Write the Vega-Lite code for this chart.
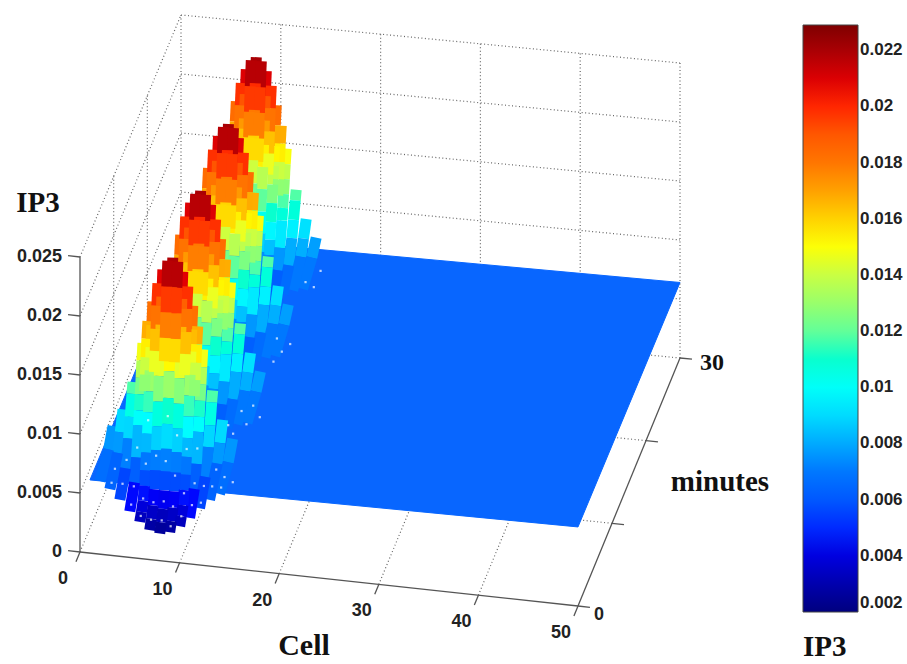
{"$schema":"https://vega.github.io/schema/vega-lite/v6.json","width":907,"height":664,"padding":0,"autosize":{"type":"none"},"background":"white","view":{"stroke":null},
"datasets":{"frame":[
{"series":"grid","cell":0,"minutes":30,"ip3":0,"end_cell":0,"end_minutes":30,"end_ip3":0.025},{"series":"grid","cell":10,"minutes":30,"ip3":0,"end_cell":10,"end_minutes":30,"end_ip3":0.025},{"series":"grid","cell":20,"minutes":30,"ip3":0,"end_cell":20,"end_minutes":30,"end_ip3":0.025},{"series":"grid","cell":30,"minutes":30,"ip3":0,"end_cell":30,"end_minutes":30,"end_ip3":0.025},{"series":"grid","cell":40,"minutes":30,"ip3":0,"end_cell":40,"end_minutes":30,"end_ip3":0.025},{"series":"grid","cell":50,"minutes":30,"ip3":0,"end_cell":50,"end_minutes":30,"end_ip3":0.025},
{"series":"grid","cell":0,"minutes":10,"ip3":0,"end_cell":0,"end_minutes":10,"end_ip3":0.025},{"series":"grid","cell":0,"minutes":20,"ip3":0,"end_cell":0,"end_minutes":20,"end_ip3":0.025},
{"series":"grid","cell":0,"minutes":30,"ip3":0.005,"end_cell":50,"end_minutes":30,"end_ip3":0.005},{"series":"grid","cell":0,"minutes":30,"ip3":0.01,"end_cell":50,"end_minutes":30,"end_ip3":0.01},{"series":"grid","cell":0,"minutes":30,"ip3":0.015,"end_cell":50,"end_minutes":30,"end_ip3":0.015},{"series":"grid","cell":0,"minutes":30,"ip3":0.02,"end_cell":50,"end_minutes":30,"end_ip3":0.02},{"series":"grid","cell":0,"minutes":30,"ip3":0.025,"end_cell":50,"end_minutes":30,"end_ip3":0.025},
{"series":"grid","cell":0,"minutes":0,"ip3":0.005,"end_cell":0,"end_minutes":30,"end_ip3":0.005},{"series":"grid","cell":0,"minutes":0,"ip3":0.01,"end_cell":0,"end_minutes":30,"end_ip3":0.01},{"series":"grid","cell":0,"minutes":0,"ip3":0.015,"end_cell":0,"end_minutes":30,"end_ip3":0.015},{"series":"grid","cell":0,"minutes":0,"ip3":0.02,"end_cell":0,"end_minutes":30,"end_ip3":0.02},{"series":"grid","cell":0,"minutes":0,"ip3":0.025,"end_cell":0,"end_minutes":30,"end_ip3":0.025},
{"series":"grid","cell":0,"minutes":0,"ip3":0,"end_cell":0,"end_minutes":30,"end_ip3":0},{"series":"grid","cell":10,"minutes":0,"ip3":0,"end_cell":10,"end_minutes":30,"end_ip3":0},{"series":"grid","cell":20,"minutes":0,"ip3":0,"end_cell":20,"end_minutes":30,"end_ip3":0},{"series":"grid","cell":30,"minutes":0,"ip3":0,"end_cell":30,"end_minutes":30,"end_ip3":0},{"series":"grid","cell":40,"minutes":0,"ip3":0,"end_cell":40,"end_minutes":30,"end_ip3":0},{"series":"grid","cell":50,"minutes":10,"ip3":0,"end_cell":0,"end_minutes":10,"end_ip3":0},{"series":"grid","cell":50,"minutes":20,"ip3":0,"end_cell":0,"end_minutes":20,"end_ip3":0},{"series":"grid","cell":50,"minutes":30,"ip3":0,"end_cell":0,"end_minutes":30,"end_ip3":0},
{"series":"axis","cell":0,"minutes":0,"ip3":0,"end_cell":0,"end_minutes":0,"end_ip3":0.025},{"series":"axis","cell":0,"minutes":0,"ip3":0,"end_cell":50,"end_minutes":0,"end_ip3":0},{"series":"axis","cell":50,"minutes":0,"ip3":0,"end_cell":50,"end_minutes":30,"end_ip3":0},
{"series":"axis","cell":0,"minutes":0,"ip3":0,"end_cell":-1.2,"end_minutes":0,"end_ip3":0},{"series":"axis","cell":0,"minutes":0,"ip3":0.005,"end_cell":-1.2,"end_minutes":0,"end_ip3":0.005},{"series":"axis","cell":0,"minutes":0,"ip3":0.01,"end_cell":-1.2,"end_minutes":0,"end_ip3":0.01},{"series":"axis","cell":0,"minutes":0,"ip3":0.015,"end_cell":-1.2,"end_minutes":0,"end_ip3":0.015},{"series":"axis","cell":0,"minutes":0,"ip3":0.02,"end_cell":-1.2,"end_minutes":0,"end_ip3":0.02},{"series":"axis","cell":0,"minutes":0,"ip3":0.025,"end_cell":-1.2,"end_minutes":0,"end_ip3":0.025},
{"series":"axis","cell":0,"minutes":0,"ip3":0,"end_cell":0,"end_minutes":-1.2,"end_ip3":0},{"series":"axis","cell":10,"minutes":0,"ip3":0,"end_cell":10,"end_minutes":-1.2,"end_ip3":0},{"series":"axis","cell":20,"minutes":0,"ip3":0,"end_cell":20,"end_minutes":-1.2,"end_ip3":0},{"series":"axis","cell":30,"minutes":0,"ip3":0,"end_cell":30,"end_minutes":-1.2,"end_ip3":0},{"series":"axis","cell":40,"minutes":0,"ip3":0,"end_cell":40,"end_minutes":-1.2,"end_ip3":0},{"series":"axis","cell":50,"minutes":0,"ip3":0,"end_cell":50,"end_minutes":-1.2,"end_ip3":0},
{"series":"axis","cell":50,"minutes":0,"ip3":0,"end_cell":51.2,"end_minutes":0,"end_ip3":0},{"series":"axis","cell":50,"minutes":10,"ip3":0,"end_cell":51.2,"end_minutes":10,"end_ip3":0},{"series":"axis","cell":50,"minutes":20,"ip3":0,"end_cell":51.2,"end_minutes":20,"end_ip3":0},{"series":"axis","cell":50,"minutes":30,"ip3":0,"end_cell":51.2,"end_minutes":30,"end_ip3":0},
{"series":"flat","vertex":1,"cell":1,"minutes":0,"ip3":0.0062},{"series":"flat","vertex":2,"cell":50,"minutes":0,"ip3":0.0067},{"series":"flat","vertex":3,"cell":50,"minutes":30,"ip3":0.0064},{"series":"flat","vertex":4,"cell":1,"minutes":30,"ip3":0.0062},{"series":"flat","vertex":5,"cell":1,"minutes":0,"ip3":0.0062},
{"series":"zlabel","label":"0","cell":0,"minutes":0,"ip3":0},{"series":"zlabel","label":"0.005","cell":0,"minutes":0,"ip3":0.005},{"series":"zlabel","label":"0.01","cell":0,"minutes":0,"ip3":0.01},{"series":"zlabel","label":"0.015","cell":0,"minutes":0,"ip3":0.015},{"series":"zlabel","label":"0.02","cell":0,"minutes":0,"ip3":0.02},{"series":"zlabel","label":"0.025","cell":0,"minutes":0,"ip3":0.025},
{"series":"clabel","label":"0","cell":0,"minutes":0,"ip3":0},{"series":"clabel","label":"10","cell":10,"minutes":0,"ip3":0},{"series":"clabel","label":"20","cell":20,"minutes":0,"ip3":0},{"series":"clabel","label":"30","cell":30,"minutes":0,"ip3":0},{"series":"clabel","label":"40","cell":40,"minutes":0,"ip3":0},{"series":"clabel","label":"50","cell":50,"minutes":0,"ip3":0},
{"series":"mzero","label":"0","cell":50,"minutes":0,"ip3":0},{"series":"mthirty","label":"30","cell":50,"minutes":30,"ip3":0},{"series":"mtitle","label":"minutes","cell":50,"minutes":15,"ip3":0},{"series":"ctitle","label":"Cell","cell":25,"minutes":0,"ip3":0},{"series":"ztitle","label":"IP3","cell":0,"minutes":0,"ip3":0.025},
{"series":"speck","cell":3,"minutes":0.5,"ip3":0.0058},{"series":"speck","cell":3,"minutes":1.5,"ip3":0.0063},{"series":"speck","cell":4,"minutes":0.8,"ip3":0.0056},{"series":"speck","cell":4,"minutes":2,"ip3":0.0068},{"series":"speck","cell":5,"minutes":0.4,"ip3":0.0042},{"series":"speck","cell":5,"minutes":1.2,"ip3":0.0052},{"series":"speck","cell":5,"minutes":2.2,"ip3":0.0078},{"series":"speck","cell":6,"minutes":0.3,"ip3":0.0034},{"series":"speck","cell":6,"minutes":1,"ip3":0.0044},{"series":"speck","cell":6,"minutes":1.8,"ip3":0.0068},{"series":"speck","cell":6,"minutes":2.5,"ip3":0.01},{"series":"speck","cell":7,"minutes":0.4,"ip3":0.0031},{"series":"speck","cell":7,"minutes":1.1,"ip3":0.0041},{"series":"speck","cell":7,"minutes":1.9,"ip3":0.0075},{"series":"speck","cell":8,"minutes":0.6,"ip3":0.003},{"series":"speck","cell":8,"minutes":1.2,"ip3":0.0042},{"series":"speck","cell":8,"minutes":1.8,"ip3":0.0072},{"series":"speck","cell":8,"minutes":2.4,"ip3":0.0106},{"series":"speck","cell":9,"minutes":0.3,"ip3":0.0028},{"series":"speck","cell":9,"minutes":1,"ip3":0.004},{"series":"speck","cell":9,"minutes":1.6,"ip3":0.0062},{"series":"speck","cell":9,"minutes":2.2,"ip3":0.0092},{"series":"speck","cell":10,"minutes":0.5,"ip3":0.0036},{"series":"speck","cell":10,"minutes":1.3,"ip3":0.005},{"series":"speck","cell":10,"minutes":2.1,"ip3":0.0082},{"series":"speck","cell":11,"minutes":0.7,"ip3":0.0045},{"series":"speck","cell":11,"minutes":1.5,"ip3":0.0058},{"series":"speck","cell":11,"minutes":2.3,"ip3":0.0082},{"series":"speck","cell":12,"minutes":0.4,"ip3":0.005},{"series":"speck","cell":12,"minutes":1.3,"ip3":0.0058},{"series":"speck","cell":13,"minutes":0.8,"ip3":0.0062},{"series":"speck","cell":13,"minutes":2,"ip3":0.0068},{"series":"speck","cell":14,"minutes":0.5,"ip3":0.0064},{"series":"speck","cell":14,"minutes":1.5,"ip3":0.0066},{"series":"speck","cell":15,"minutes":1,"ip3":0.0066},{"series":"speck","cell":13,"minutes":7,"ip3":0.0064},{"series":"speck","cell":14,"minutes":8,"ip3":0.0066},{"series":"speck","cell":12,"minutes":8.5,"ip3":0.006},{"series":"speck","cell":13,"minutes":9.5,"ip3":0.0066},{"series":"speck","cell":14,"minutes":10,"ip3":0.0068},{"series":"speck","cell":15,"minutes":9,"ip3":0.0066},{"series":"speck","cell":14.5,"minutes":17,"ip3":0.0066},{"series":"speck","cell":14,"minutes":16,"ip3":0.0064},{"series":"speck","cell":15,"minutes":18,"ip3":0.0066},{"series":"speck","cell":13.5,"minutes":18.5,"ip3":0.0066},{"series":"speck","cell":15,"minutes":25,"ip3":0.0066},{"series":"speck","cell":14,"minutes":25.5,"ip3":0.0066},{"series":"speck","cell":15,"minutes":27,"ip3":0.0066}
],
"surface":[
{"cell":2,"minutes":0,"ip3":0.0062},{"cell":2,"minutes":2.6,"ip3":0.0071},{"cell":2,"minutes":3.9,"ip3":0.0082},
{"cell":14,"minutes":0,"ip3":0.0062},{"cell":14,"minutes":2.6,"ip3":0.0071},{"cell":14,"minutes":3.9,"ip3":0.0082},
{"cell":3,"minutes":0,"ip3":0.0056},{"cell":3,"minutes":2.3,"ip3":0.0071},{"cell":3,"minutes":3.1,"ip3":0.0083},{"cell":3,"minutes":3.9,"ip3":0.0097},
{"cell":13,"minutes":0,"ip3":0.0056},{"cell":13,"minutes":2.3,"ip3":0.0071},{"cell":13,"minutes":3.1,"ip3":0.0083},{"cell":13,"minutes":3.9,"ip3":0.0097},
{"cell":4,"minutes":0,"ip3":0.0048},{"cell":4,"minutes":1.7,"ip3":0.0063},{"cell":4,"minutes":2.6,"ip3":0.0082},{"cell":4,"minutes":3.1,"ip3":0.0097},{"cell":4,"minutes":3.6,"ip3":0.0113},{"cell":4,"minutes":3.9,"ip3":0.0121},
{"cell":12,"minutes":0,"ip3":0.0048},{"cell":12,"minutes":1.7,"ip3":0.0063},{"cell":12,"minutes":2.6,"ip3":0.0082},{"cell":12,"minutes":3.1,"ip3":0.0097},{"cell":12,"minutes":3.6,"ip3":0.0113},{"cell":12,"minutes":3.9,"ip3":0.0121},
{"cell":5,"minutes":0,"ip3":0.0039},{"cell":5,"minutes":1.4,"ip3":0.0054},{"cell":5,"minutes":2,"ip3":0.0071},{"cell":5,"minutes":2.6,"ip3":0.0094},{"cell":5,"minutes":2.85,"ip3":0.0105},{"cell":5,"minutes":3.1,"ip3":0.0117},{"cell":5,"minutes":3.35,"ip3":0.0129},{"cell":5,"minutes":3.6,"ip3":0.0142},{"cell":5,"minutes":3.9,"ip3":0.0155},
{"cell":11,"minutes":0,"ip3":0.0039},{"cell":11,"minutes":1.4,"ip3":0.0054},{"cell":11,"minutes":2,"ip3":0.0071},{"cell":11,"minutes":2.6,"ip3":0.0094},{"cell":11,"minutes":2.85,"ip3":0.0105},{"cell":11,"minutes":3.1,"ip3":0.0117},{"cell":11,"minutes":3.35,"ip3":0.0129},{"cell":11,"minutes":3.6,"ip3":0.0142},{"cell":11,"minutes":3.9,"ip3":0.0155},
{"cell":6,"minutes":0,"ip3":0.0031},{"cell":6,"minutes":0.5,"ip3":0.0036},{"cell":6,"minutes":1,"ip3":0.0042},{"cell":6,"minutes":1.4,"ip3":0.0052},{"cell":6,"minutes":1.7,"ip3":0.0063},{"cell":6,"minutes":2,"ip3":0.0076},{"cell":6,"minutes":2.3,"ip3":0.009},{"cell":6,"minutes":2.6,"ip3":0.0106},{"cell":6,"minutes":2.85,"ip3":0.0122},{"cell":6,"minutes":3.1,"ip3":0.0138},{"cell":6,"minutes":3.35,"ip3":0.0156},{"cell":6,"minutes":3.6,"ip3":0.0173},{"cell":6,"minutes":3.9,"ip3":0.0191},
{"cell":10,"minutes":0,"ip3":0.0031},{"cell":10,"minutes":0.5,"ip3":0.0036},{"cell":10,"minutes":1,"ip3":0.0042},{"cell":10,"minutes":1.4,"ip3":0.0052},{"cell":10,"minutes":1.7,"ip3":0.0063},{"cell":10,"minutes":2,"ip3":0.0076},{"cell":10,"minutes":2.3,"ip3":0.009},{"cell":10,"minutes":2.6,"ip3":0.0106},{"cell":10,"minutes":2.85,"ip3":0.0122},{"cell":10,"minutes":3.1,"ip3":0.0138},{"cell":10,"minutes":3.35,"ip3":0.0156},{"cell":10,"minutes":3.6,"ip3":0.0173},{"cell":10,"minutes":3.9,"ip3":0.0191},
{"cell":7,"minutes":0,"ip3":0.0025},{"cell":7,"minutes":0.5,"ip3":0.0031},{"cell":7,"minutes":1,"ip3":0.0039},{"cell":7,"minutes":1.4,"ip3":0.005},{"cell":7,"minutes":1.7,"ip3":0.0064},{"cell":7,"minutes":2,"ip3":0.0079},{"cell":7,"minutes":2.3,"ip3":0.0097},{"cell":7,"minutes":2.6,"ip3":0.0116},{"cell":7,"minutes":2.85,"ip3":0.0136},{"cell":7,"minutes":3.1,"ip3":0.0155},{"cell":7,"minutes":3.35,"ip3":0.0176},{"cell":7,"minutes":3.6,"ip3":0.0198},{"cell":7,"minutes":3.9,"ip3":0.0219},
{"cell":9,"minutes":0,"ip3":0.0025},{"cell":9,"minutes":0.5,"ip3":0.0031},{"cell":9,"minutes":1,"ip3":0.0039},{"cell":9,"minutes":1.4,"ip3":0.005},{"cell":9,"minutes":1.7,"ip3":0.0064},{"cell":9,"minutes":2,"ip3":0.0079},{"cell":9,"minutes":2.3,"ip3":0.0097},{"cell":9,"minutes":2.6,"ip3":0.0116},{"cell":9,"minutes":2.85,"ip3":0.0136},{"cell":9,"minutes":3.1,"ip3":0.0155},{"cell":9,"minutes":3.35,"ip3":0.0176},{"cell":9,"minutes":3.6,"ip3":0.0198},{"cell":9,"minutes":3.9,"ip3":0.0219},
{"cell":8,"minutes":0,"ip3":0.0023},{"cell":8,"minutes":0.5,"ip3":0.0029},{"cell":8,"minutes":1,"ip3":0.0037},{"cell":8,"minutes":1.4,"ip3":0.005},{"cell":8,"minutes":1.7,"ip3":0.0064},{"cell":8,"minutes":2,"ip3":0.0081},{"cell":8,"minutes":2.3,"ip3":0.01},{"cell":8,"minutes":2.6,"ip3":0.012},{"cell":8,"minutes":2.85,"ip3":0.0141},{"cell":8,"minutes":3.1,"ip3":0.0162},{"cell":8,"minutes":3.35,"ip3":0.0184},{"cell":8,"minutes":3.6,"ip3":0.0207},{"cell":8,"minutes":3.9,"ip3":0.023},
{"cell":5.5,"minutes":2.85,"ip3":0.0122},{"cell":5.5,"minutes":3.1,"ip3":0.0134},{"cell":5.5,"minutes":3.35,"ip3":0.0147},{"cell":5.5,"minutes":3.6,"ip3":0.0161},{"cell":5.5,"minutes":3.9,"ip3":0.0174},
{"cell":10.5,"minutes":2.85,"ip3":0.0122},{"cell":10.5,"minutes":3.1,"ip3":0.0134},{"cell":10.5,"minutes":3.35,"ip3":0.0147},{"cell":10.5,"minutes":3.6,"ip3":0.0161},{"cell":10.5,"minutes":3.9,"ip3":0.0174},
{"cell":6.5,"minutes":2.85,"ip3":0.0139},{"cell":6.5,"minutes":3.1,"ip3":0.0155},{"cell":6.5,"minutes":3.35,"ip3":0.0172},{"cell":6.5,"minutes":3.6,"ip3":0.019},{"cell":6.5,"minutes":3.9,"ip3":0.0207},
{"cell":9.5,"minutes":2.85,"ip3":0.0139},{"cell":9.5,"minutes":3.1,"ip3":0.0155},{"cell":9.5,"minutes":3.35,"ip3":0.0172},{"cell":9.5,"minutes":3.6,"ip3":0.019},{"cell":9.5,"minutes":3.9,"ip3":0.0207},
{"cell":7.5,"minutes":2.85,"ip3":0.0149},{"cell":7.5,"minutes":3.1,"ip3":0.0167},{"cell":7.5,"minutes":3.35,"ip3":0.0187},{"cell":7.5,"minutes":3.6,"ip3":0.0207},{"cell":7.5,"minutes":3.9,"ip3":0.0227},
{"cell":8.5,"minutes":2.85,"ip3":0.0149},{"cell":8.5,"minutes":3.1,"ip3":0.0167},{"cell":8.5,"minutes":3.35,"ip3":0.0187},{"cell":8.5,"minutes":3.6,"ip3":0.0207},{"cell":8.5,"minutes":3.9,"ip3":0.0227},

{"cell":6,"minutes":11.1,"ip3":0.0131},{"cell":6,"minutes":11.35,"ip3":0.0145},{"cell":6,"minutes":11.6,"ip3":0.016},{"cell":6,"minutes":11.85,"ip3":0.0176},{"cell":6,"minutes":12.15,"ip3":0.0191},
{"cell":7,"minutes":10.55,"ip3":0.0111},{"cell":7,"minutes":10.85,"ip3":0.0128},{"cell":7,"minutes":11.1,"ip3":0.0145},{"cell":7,"minutes":11.35,"ip3":0.0162},{"cell":7,"minutes":11.6,"ip3":0.0181},{"cell":7,"minutes":11.85,"ip3":0.02},{"cell":7,"minutes":12.15,"ip3":0.0219},
{"cell":8,"minutes":10.25,"ip3":0.0097},{"cell":8,"minutes":10.55,"ip3":0.0113},{"cell":8,"minutes":10.85,"ip3":0.0132},{"cell":8,"minutes":11.1,"ip3":0.015},{"cell":8,"minutes":11.35,"ip3":0.0169},{"cell":8,"minutes":11.6,"ip3":0.0189},{"cell":8,"minutes":11.85,"ip3":0.021},{"cell":8,"minutes":12.15,"ip3":0.023},
{"cell":9,"minutes":9.25,"ip3":0.0059},{"cell":9,"minutes":9.65,"ip3":0.0069},{"cell":9,"minutes":9.95,"ip3":0.0081},{"cell":9,"minutes":10.25,"ip3":0.0095},{"cell":9,"minutes":10.55,"ip3":0.0111},{"cell":9,"minutes":10.85,"ip3":0.0128},{"cell":9,"minutes":11.1,"ip3":0.0145},{"cell":9,"minutes":11.35,"ip3":0.0162},{"cell":9,"minutes":11.6,"ip3":0.0181},{"cell":9,"minutes":11.85,"ip3":0.02},{"cell":9,"minutes":12.15,"ip3":0.0219},
{"cell":10,"minutes":8.15,"ip3":0.0051},{"cell":10,"minutes":8.75,"ip3":0.0055},{"cell":10,"minutes":9.25,"ip3":0.0061},{"cell":10,"minutes":9.65,"ip3":0.0069},{"cell":10,"minutes":9.95,"ip3":0.0079},{"cell":10,"minutes":10.25,"ip3":0.009},{"cell":10,"minutes":10.55,"ip3":0.0103},{"cell":10,"minutes":10.85,"ip3":0.0117},{"cell":10,"minutes":11.1,"ip3":0.0131},{"cell":10,"minutes":11.35,"ip3":0.0145},{"cell":10,"minutes":11.6,"ip3":0.016},{"cell":10,"minutes":11.85,"ip3":0.0176},{"cell":10,"minutes":12.15,"ip3":0.0191},
{"cell":11,"minutes":8.15,"ip3":0.0056},{"cell":11,"minutes":9.65,"ip3":0.0069},{"cell":11,"minutes":10.25,"ip3":0.0084},{"cell":11,"minutes":10.85,"ip3":0.0103},{"cell":11,"minutes":11.1,"ip3":0.0112},{"cell":11,"minutes":11.35,"ip3":0.0122},{"cell":11,"minutes":11.6,"ip3":0.0133},{"cell":11,"minutes":11.85,"ip3":0.0144},{"cell":11,"minutes":12.15,"ip3":0.0155},
{"cell":12,"minutes":8.15,"ip3":0.006},{"cell":12,"minutes":9.95,"ip3":0.0072},{"cell":12,"minutes":10.85,"ip3":0.0089},{"cell":12,"minutes":11.35,"ip3":0.0101},{"cell":12,"minutes":11.85,"ip3":0.0114},{"cell":12,"minutes":12.15,"ip3":0.0121},
{"cell":13,"minutes":8.15,"ip3":0.0064},{"cell":13,"minutes":10.55,"ip3":0.0076},{"cell":13,"minutes":11.35,"ip3":0.0086},{"cell":13,"minutes":12.15,"ip3":0.0097},
{"cell":14,"minutes":8.15,"ip3":0.0066},{"cell":14,"minutes":10.85,"ip3":0.0074},{"cell":14,"minutes":12.15,"ip3":0.0082},
{"cell":6.5,"minutes":11.1,"ip3":0.0139},{"cell":6.5,"minutes":11.35,"ip3":0.0155},{"cell":6.5,"minutes":11.6,"ip3":0.0172},{"cell":6.5,"minutes":11.85,"ip3":0.019},{"cell":6.5,"minutes":12.15,"ip3":0.0207},
{"cell":9.5,"minutes":11.1,"ip3":0.0139},{"cell":9.5,"minutes":11.35,"ip3":0.0155},{"cell":9.5,"minutes":11.6,"ip3":0.0172},{"cell":9.5,"minutes":11.85,"ip3":0.019},{"cell":9.5,"minutes":12.15,"ip3":0.0207},
{"cell":7.5,"minutes":11.1,"ip3":0.0149},{"cell":7.5,"minutes":11.35,"ip3":0.0167},{"cell":7.5,"minutes":11.6,"ip3":0.0187},{"cell":7.5,"minutes":11.85,"ip3":0.0207},{"cell":7.5,"minutes":12.15,"ip3":0.0227},
{"cell":8.5,"minutes":11.1,"ip3":0.0149},{"cell":8.5,"minutes":11.35,"ip3":0.0167},{"cell":8.5,"minutes":11.6,"ip3":0.0187},{"cell":8.5,"minutes":11.85,"ip3":0.0207},{"cell":8.5,"minutes":12.15,"ip3":0.0227},
{"cell":10.5,"minutes":11.1,"ip3":0.0122},{"cell":10.5,"minutes":11.35,"ip3":0.0134},{"cell":10.5,"minutes":11.6,"ip3":0.0147},{"cell":10.5,"minutes":11.85,"ip3":0.0161},{"cell":10.5,"minutes":12.15,"ip3":0.0174},

{"cell":6,"minutes":19.35,"ip3":0.0131},{"cell":6,"minutes":19.6,"ip3":0.0145},{"cell":6,"minutes":19.85,"ip3":0.016},{"cell":6,"minutes":20.1,"ip3":0.0176},{"cell":6,"minutes":20.4,"ip3":0.0191},
{"cell":7,"minutes":18.8,"ip3":0.0111},{"cell":7,"minutes":19.1,"ip3":0.0128},{"cell":7,"minutes":19.35,"ip3":0.0145},{"cell":7,"minutes":19.6,"ip3":0.0162},{"cell":7,"minutes":19.85,"ip3":0.0181},{"cell":7,"minutes":20.1,"ip3":0.02},{"cell":7,"minutes":20.4,"ip3":0.0219},
{"cell":8,"minutes":18.5,"ip3":0.0097},{"cell":8,"minutes":18.8,"ip3":0.0113},{"cell":8,"minutes":19.1,"ip3":0.0132},{"cell":8,"minutes":19.35,"ip3":0.015},{"cell":8,"minutes":19.6,"ip3":0.0169},{"cell":8,"minutes":19.85,"ip3":0.0189},{"cell":8,"minutes":20.1,"ip3":0.021},{"cell":8,"minutes":20.4,"ip3":0.023},
{"cell":9,"minutes":17.5,"ip3":0.0059},{"cell":9,"minutes":17.9,"ip3":0.0069},{"cell":9,"minutes":18.2,"ip3":0.0081},{"cell":9,"minutes":18.5,"ip3":0.0095},{"cell":9,"minutes":18.8,"ip3":0.0111},{"cell":9,"minutes":19.1,"ip3":0.0128},{"cell":9,"minutes":19.35,"ip3":0.0145},{"cell":9,"minutes":19.6,"ip3":0.0162},{"cell":9,"minutes":19.85,"ip3":0.0181},{"cell":9,"minutes":20.1,"ip3":0.02},{"cell":9,"minutes":20.4,"ip3":0.0219},
{"cell":10,"minutes":16.4,"ip3":0.0051},{"cell":10,"minutes":17,"ip3":0.0055},{"cell":10,"minutes":17.5,"ip3":0.0061},{"cell":10,"minutes":17.9,"ip3":0.0069},{"cell":10,"minutes":18.2,"ip3":0.0079},{"cell":10,"minutes":18.5,"ip3":0.009},{"cell":10,"minutes":18.8,"ip3":0.0103},{"cell":10,"minutes":19.1,"ip3":0.0117},{"cell":10,"minutes":19.35,"ip3":0.0131},{"cell":10,"minutes":19.6,"ip3":0.0145},{"cell":10,"minutes":19.85,"ip3":0.016},{"cell":10,"minutes":20.1,"ip3":0.0176},{"cell":10,"minutes":20.4,"ip3":0.0191},
{"cell":11,"minutes":16.4,"ip3":0.0056},{"cell":11,"minutes":17.9,"ip3":0.0069},{"cell":11,"minutes":18.5,"ip3":0.0084},{"cell":11,"minutes":19.1,"ip3":0.0103},{"cell":11,"minutes":19.35,"ip3":0.0112},{"cell":11,"minutes":19.6,"ip3":0.0122},{"cell":11,"minutes":19.85,"ip3":0.0133},{"cell":11,"minutes":20.1,"ip3":0.0144},{"cell":11,"minutes":20.4,"ip3":0.0155},
{"cell":12,"minutes":16.4,"ip3":0.006},{"cell":12,"minutes":18.2,"ip3":0.0072},{"cell":12,"minutes":19.1,"ip3":0.0089},{"cell":12,"minutes":19.6,"ip3":0.0101},{"cell":12,"minutes":20.1,"ip3":0.0114},{"cell":12,"minutes":20.4,"ip3":0.0121},
{"cell":13,"minutes":16.4,"ip3":0.0064},{"cell":13,"minutes":18.8,"ip3":0.0076},{"cell":13,"minutes":19.6,"ip3":0.0086},{"cell":13,"minutes":20.4,"ip3":0.0097},
{"cell":14,"minutes":16.4,"ip3":0.0066},{"cell":14,"minutes":19.1,"ip3":0.0074},{"cell":14,"minutes":20.4,"ip3":0.0082},
{"cell":6.5,"minutes":19.35,"ip3":0.0139},{"cell":6.5,"minutes":19.6,"ip3":0.0155},{"cell":6.5,"minutes":19.85,"ip3":0.0172},{"cell":6.5,"minutes":20.1,"ip3":0.019},{"cell":6.5,"minutes":20.4,"ip3":0.0207},
{"cell":9.5,"minutes":19.35,"ip3":0.0139},{"cell":9.5,"minutes":19.6,"ip3":0.0155},{"cell":9.5,"minutes":19.85,"ip3":0.0172},{"cell":9.5,"minutes":20.1,"ip3":0.019},{"cell":9.5,"minutes":20.4,"ip3":0.0207},
{"cell":7.5,"minutes":19.35,"ip3":0.0149},{"cell":7.5,"minutes":19.6,"ip3":0.0167},{"cell":7.5,"minutes":19.85,"ip3":0.0187},{"cell":7.5,"minutes":20.1,"ip3":0.0207},{"cell":7.5,"minutes":20.4,"ip3":0.0227},
{"cell":8.5,"minutes":19.35,"ip3":0.0149},{"cell":8.5,"minutes":19.6,"ip3":0.0167},{"cell":8.5,"minutes":19.85,"ip3":0.0187},{"cell":8.5,"minutes":20.1,"ip3":0.0207},{"cell":8.5,"minutes":20.4,"ip3":0.0227},
{"cell":10.5,"minutes":19.35,"ip3":0.0122},{"cell":10.5,"minutes":19.6,"ip3":0.0134},{"cell":10.5,"minutes":19.85,"ip3":0.0147},{"cell":10.5,"minutes":20.1,"ip3":0.0161},{"cell":10.5,"minutes":20.4,"ip3":0.0174},

{"cell":6,"minutes":27.6,"ip3":0.0131},{"cell":6,"minutes":27.85,"ip3":0.0145},{"cell":6,"minutes":28.1,"ip3":0.016},{"cell":6,"minutes":28.35,"ip3":0.0176},{"cell":6,"minutes":28.65,"ip3":0.0191},
{"cell":7,"minutes":27.05,"ip3":0.0111},{"cell":7,"minutes":27.35,"ip3":0.0128},{"cell":7,"minutes":27.6,"ip3":0.0145},{"cell":7,"minutes":27.85,"ip3":0.0162},{"cell":7,"minutes":28.1,"ip3":0.0181},{"cell":7,"minutes":28.35,"ip3":0.02},{"cell":7,"minutes":28.65,"ip3":0.0219},
{"cell":8,"minutes":26.75,"ip3":0.0097},{"cell":8,"minutes":27.05,"ip3":0.0113},{"cell":8,"minutes":27.35,"ip3":0.0132},{"cell":8,"minutes":27.6,"ip3":0.015},{"cell":8,"minutes":27.85,"ip3":0.0169},{"cell":8,"minutes":28.1,"ip3":0.0189},{"cell":8,"minutes":28.35,"ip3":0.021},{"cell":8,"minutes":28.65,"ip3":0.023},
{"cell":9,"minutes":25.75,"ip3":0.0059},{"cell":9,"minutes":26.15,"ip3":0.0069},{"cell":9,"minutes":26.45,"ip3":0.0081},{"cell":9,"minutes":26.75,"ip3":0.0095},{"cell":9,"minutes":27.05,"ip3":0.0111},{"cell":9,"minutes":27.35,"ip3":0.0128},{"cell":9,"minutes":27.6,"ip3":0.0145},{"cell":9,"minutes":27.85,"ip3":0.0162},{"cell":9,"minutes":28.1,"ip3":0.0181},{"cell":9,"minutes":28.35,"ip3":0.02},{"cell":9,"minutes":28.65,"ip3":0.0219},
{"cell":10,"minutes":24.65,"ip3":0.0051},{"cell":10,"minutes":25.25,"ip3":0.0055},{"cell":10,"minutes":25.75,"ip3":0.0061},{"cell":10,"minutes":26.15,"ip3":0.0069},{"cell":10,"minutes":26.45,"ip3":0.0079},{"cell":10,"minutes":26.75,"ip3":0.009},{"cell":10,"minutes":27.05,"ip3":0.0103},{"cell":10,"minutes":27.35,"ip3":0.0117},{"cell":10,"minutes":27.6,"ip3":0.0131},{"cell":10,"minutes":27.85,"ip3":0.0145},{"cell":10,"minutes":28.1,"ip3":0.016},{"cell":10,"minutes":28.35,"ip3":0.0176},{"cell":10,"minutes":28.65,"ip3":0.0191},
{"cell":11,"minutes":24.65,"ip3":0.0056},{"cell":11,"minutes":26.15,"ip3":0.0069},{"cell":11,"minutes":26.75,"ip3":0.0084},{"cell":11,"minutes":27.35,"ip3":0.0103},{"cell":11,"minutes":27.6,"ip3":0.0112},{"cell":11,"minutes":27.85,"ip3":0.0122},{"cell":11,"minutes":28.1,"ip3":0.0133},{"cell":11,"minutes":28.35,"ip3":0.0144},{"cell":11,"minutes":28.65,"ip3":0.0155},
{"cell":12,"minutes":24.65,"ip3":0.006},{"cell":12,"minutes":26.45,"ip3":0.0072},{"cell":12,"minutes":27.35,"ip3":0.0089},{"cell":12,"minutes":27.85,"ip3":0.0101},{"cell":12,"minutes":28.35,"ip3":0.0114},{"cell":12,"minutes":28.65,"ip3":0.0121},
{"cell":13,"minutes":24.65,"ip3":0.0064},{"cell":13,"minutes":27.05,"ip3":0.0076},{"cell":13,"minutes":27.85,"ip3":0.0086},{"cell":13,"minutes":28.65,"ip3":0.0097},
{"cell":14,"minutes":24.65,"ip3":0.0066},{"cell":14,"minutes":27.35,"ip3":0.0074},{"cell":14,"minutes":28.65,"ip3":0.0082},
{"cell":6.5,"minutes":27.6,"ip3":0.0139},{"cell":6.5,"minutes":27.85,"ip3":0.0155},{"cell":6.5,"minutes":28.1,"ip3":0.0172},{"cell":6.5,"minutes":28.35,"ip3":0.019},{"cell":6.5,"minutes":28.65,"ip3":0.0207},
{"cell":9.5,"minutes":27.6,"ip3":0.0139},{"cell":9.5,"minutes":27.85,"ip3":0.0155},{"cell":9.5,"minutes":28.1,"ip3":0.0172},{"cell":9.5,"minutes":28.35,"ip3":0.019},{"cell":9.5,"minutes":28.65,"ip3":0.0207},
{"cell":7.5,"minutes":27.6,"ip3":0.0149},{"cell":7.5,"minutes":27.85,"ip3":0.0167},{"cell":7.5,"minutes":28.1,"ip3":0.0187},{"cell":7.5,"minutes":28.35,"ip3":0.0207},{"cell":7.5,"minutes":28.65,"ip3":0.0227},
{"cell":8.5,"minutes":27.6,"ip3":0.0149},{"cell":8.5,"minutes":27.85,"ip3":0.0167},{"cell":8.5,"minutes":28.1,"ip3":0.0187},{"cell":8.5,"minutes":28.35,"ip3":0.0207},{"cell":8.5,"minutes":28.65,"ip3":0.0227},
{"cell":10.5,"minutes":27.6,"ip3":0.0122},{"cell":10.5,"minutes":27.85,"ip3":0.0134},{"cell":10.5,"minutes":28.1,"ip3":0.0147},{"cell":10.5,"minutes":28.35,"ip3":0.0161},{"cell":10.5,"minutes":28.65,"ip3":0.0174}
]},
"encoding":{"x":{"field":"sx","type":"quantitative","scale":{"domain":[0,907],"nice":false},"axis":null},"y":{"field":"sy","type":"quantitative","scale":{"domain":[664,0],"nice":false},"axis":null}},
"layer":[
{"data":{"name":"frame"},"transform":[
{"calculate":"80+9.96*datum.cell+3.367*datum.minutes+0.00067*datum.cell*datum.minutes","as":"sx"},
{"calculate":"552+1.08*datum.cell-8.067*datum.minutes-0.004*datum.cell*datum.minutes-11800*datum.ip3","as":"sy"},
{"calculate":"80+9.96*datum.end_cell+3.367*datum.end_minutes+0.00067*datum.end_cell*datum.end_minutes","as":"ex"},
{"calculate":"552+1.08*datum.end_cell-8.067*datum.end_minutes-0.004*datum.end_cell*datum.end_minutes-11800*datum.end_ip3","as":"ey"}],
"layer":[
{"transform":[{"filter":"datum.series==='grid'"}],"mark":{"type":"rule","stroke":"#666","strokeWidth":1.2,"strokeDash":[1,2.5]},"encoding":{"x2":{"field":"ex"},"y2":{"field":"ey"}}},
{"transform":[{"filter":"datum.series==='axis'"}],"mark":{"type":"rule","stroke":"#555","strokeWidth":1.3},"encoding":{"x2":{"field":"ex"},"y2":{"field":"ey"}}},
{"transform":[{"filter":"datum.series==='flat'"}],"mark":{"type":"line","stroke":"#0866ff","strokeWidth":1,"fill":"#0866ff"},"encoding":{"order":{"field":"vertex"}}},
{"transform":[{"filter":"datum.series==='zlabel'"}],"mark":{"type":"text","align":"right","baseline":"middle","dx":-18,"font":"Liberation Sans","fontWeight":"bold","fontSize":18,"fill":"#222"},"encoding":{"text":{"field":"label"}}},
{"transform":[{"filter":"datum.series==='clabel'"}],"mark":{"type":"text","align":"center","baseline":"middle","dx":-17,"dy":27,"font":"Liberation Sans","fontWeight":"bold","fontSize":18,"fill":"#222"},"encoding":{"text":{"field":"label"}}},
{"transform":[{"filter":"datum.series==='mzero'"}],"mark":{"type":"text","align":"center","baseline":"middle","dx":21,"dy":9,"font":"Liberation Sans","fontWeight":"bold","fontSize":18,"fill":"#222"},"encoding":{"text":{"field":"label"}}},
{"transform":[{"filter":"datum.series==='mthirty'"}],"mark":{"type":"text","align":"center","baseline":"middle","dx":32,"dy":5,"font":"Liberation Serif","fontWeight":"bold","fontSize":24,"fill":"#111"},"encoding":{"text":{"field":"label"}}},
{"transform":[{"filter":"datum.series==='mtitle'"}],"mark":{"type":"text","align":"center","baseline":"middle","dx":91,"dy":0,"font":"Liberation Serif","fontWeight":"bold","fontSize":29,"fill":"#111"},"encoding":{"text":{"field":"label"}}},
{"transform":[{"filter":"datum.series==='ctitle'"}],"mark":{"type":"text","align":"center","baseline":"middle","dx":-25,"dy":67,"font":"Liberation Serif","fontWeight":"bold","fontSize":30,"fill":"#111"},"encoding":{"text":{"field":"label"}}},
{"transform":[{"filter":"datum.series==='ztitle'"}],"mark":{"type":"text","align":"center","baseline":"middle","dx":-42,"dy":-54,"font":"Liberation Serif","fontWeight":"bold","fontSize":29,"fill":"#111"},"encoding":{"text":{"field":"label"}}}
]},
{"data":{"name":"surface"},"transform":[
{"window":[{"op":"lag","field":"ip3","as":"prev_ip3"},{"op":"lag","field":"minutes","as":"prev_minutes"}],"groupby":["cell"],"sort":[{"field":"minutes","order":"ascending"}]},
{"filter":"datum.prev_minutes!=null && datum.minutes-datum.prev_minutes<3"},
{"calculate":"80+9.96*datum.cell+3.367*datum.minutes+0.00067*datum.cell*datum.minutes","as":"sx"},
{"calculate":"552+1.08*datum.cell-8.067*datum.minutes-0.004*datum.cell*datum.minutes-11800*datum.ip3","as":"sy"},
{"calculate":"80+9.96*datum.cell+3.367*datum.prev_minutes+0.00067*datum.cell*datum.prev_minutes","as":"ex"},
{"calculate":"552+1.08*datum.cell-8.067*datum.prev_minutes-0.004*datum.cell*datum.prev_minutes-11800*datum.prev_ip3","as":"ey"},
{"calculate":"(datum.ip3+datum.prev_ip3)/2","as":"level"}],
"mark":{"type":"rule","strokeWidth":11,"strokeCap":"butt"},
"encoding":{"x2":{"field":"ex"},"y2":{"field":"ey"},"order":{"field":"minutes","sort":"descending"},
"color":{"field":"level","type":"quantitative","title":"IP3","scale":{"domain":[0.002,0.004613,0.007225,0.009838,0.01245,0.015063,0.017675,0.020288,0.0229],"range":["#00007f","#0000ff","#007fff","#00ffff","#7fff7f","#ffff00","#ff7f00","#ff0000","#7f0000"]},
"legend":{"orient":"none","legendX":803,"legendY":25,"direction":"vertical","gradientLength":587,"gradientThickness":55,"gradientStrokeColor":"#444","gradientStrokeWidth":1,"values":[0.002,0.004,0.006,0.008,0.01,0.012,0.014,0.016,0.018,0.02,0.022],"labelFont":"Liberation Sans","labelFontWeight":"bold","labelFontSize":17,"labelColor":"#222","labelBaseline":"middle","labelOverlap":false,"format":"~g","titleOrient":"bottom","titleFont":"Liberation Serif","titleFontWeight":"bold","titleFontSize":29,"titleColor":"#111","titlePadding":20}}}},
{"data":{"name":"frame"},"transform":[{"filter":"datum.series==='speck'"},
{"calculate":"80+9.96*datum.cell+3.367*datum.minutes+0.00067*datum.cell*datum.minutes","as":"sx"},
{"calculate":"552+1.08*datum.cell-8.067*datum.minutes-0.004*datum.cell*datum.minutes-11800*datum.ip3","as":"sy"}],
"mark":{"type":"point","shape":"square","filled":true,"color":"white","size":5,"opacity":0.7}}
]}
